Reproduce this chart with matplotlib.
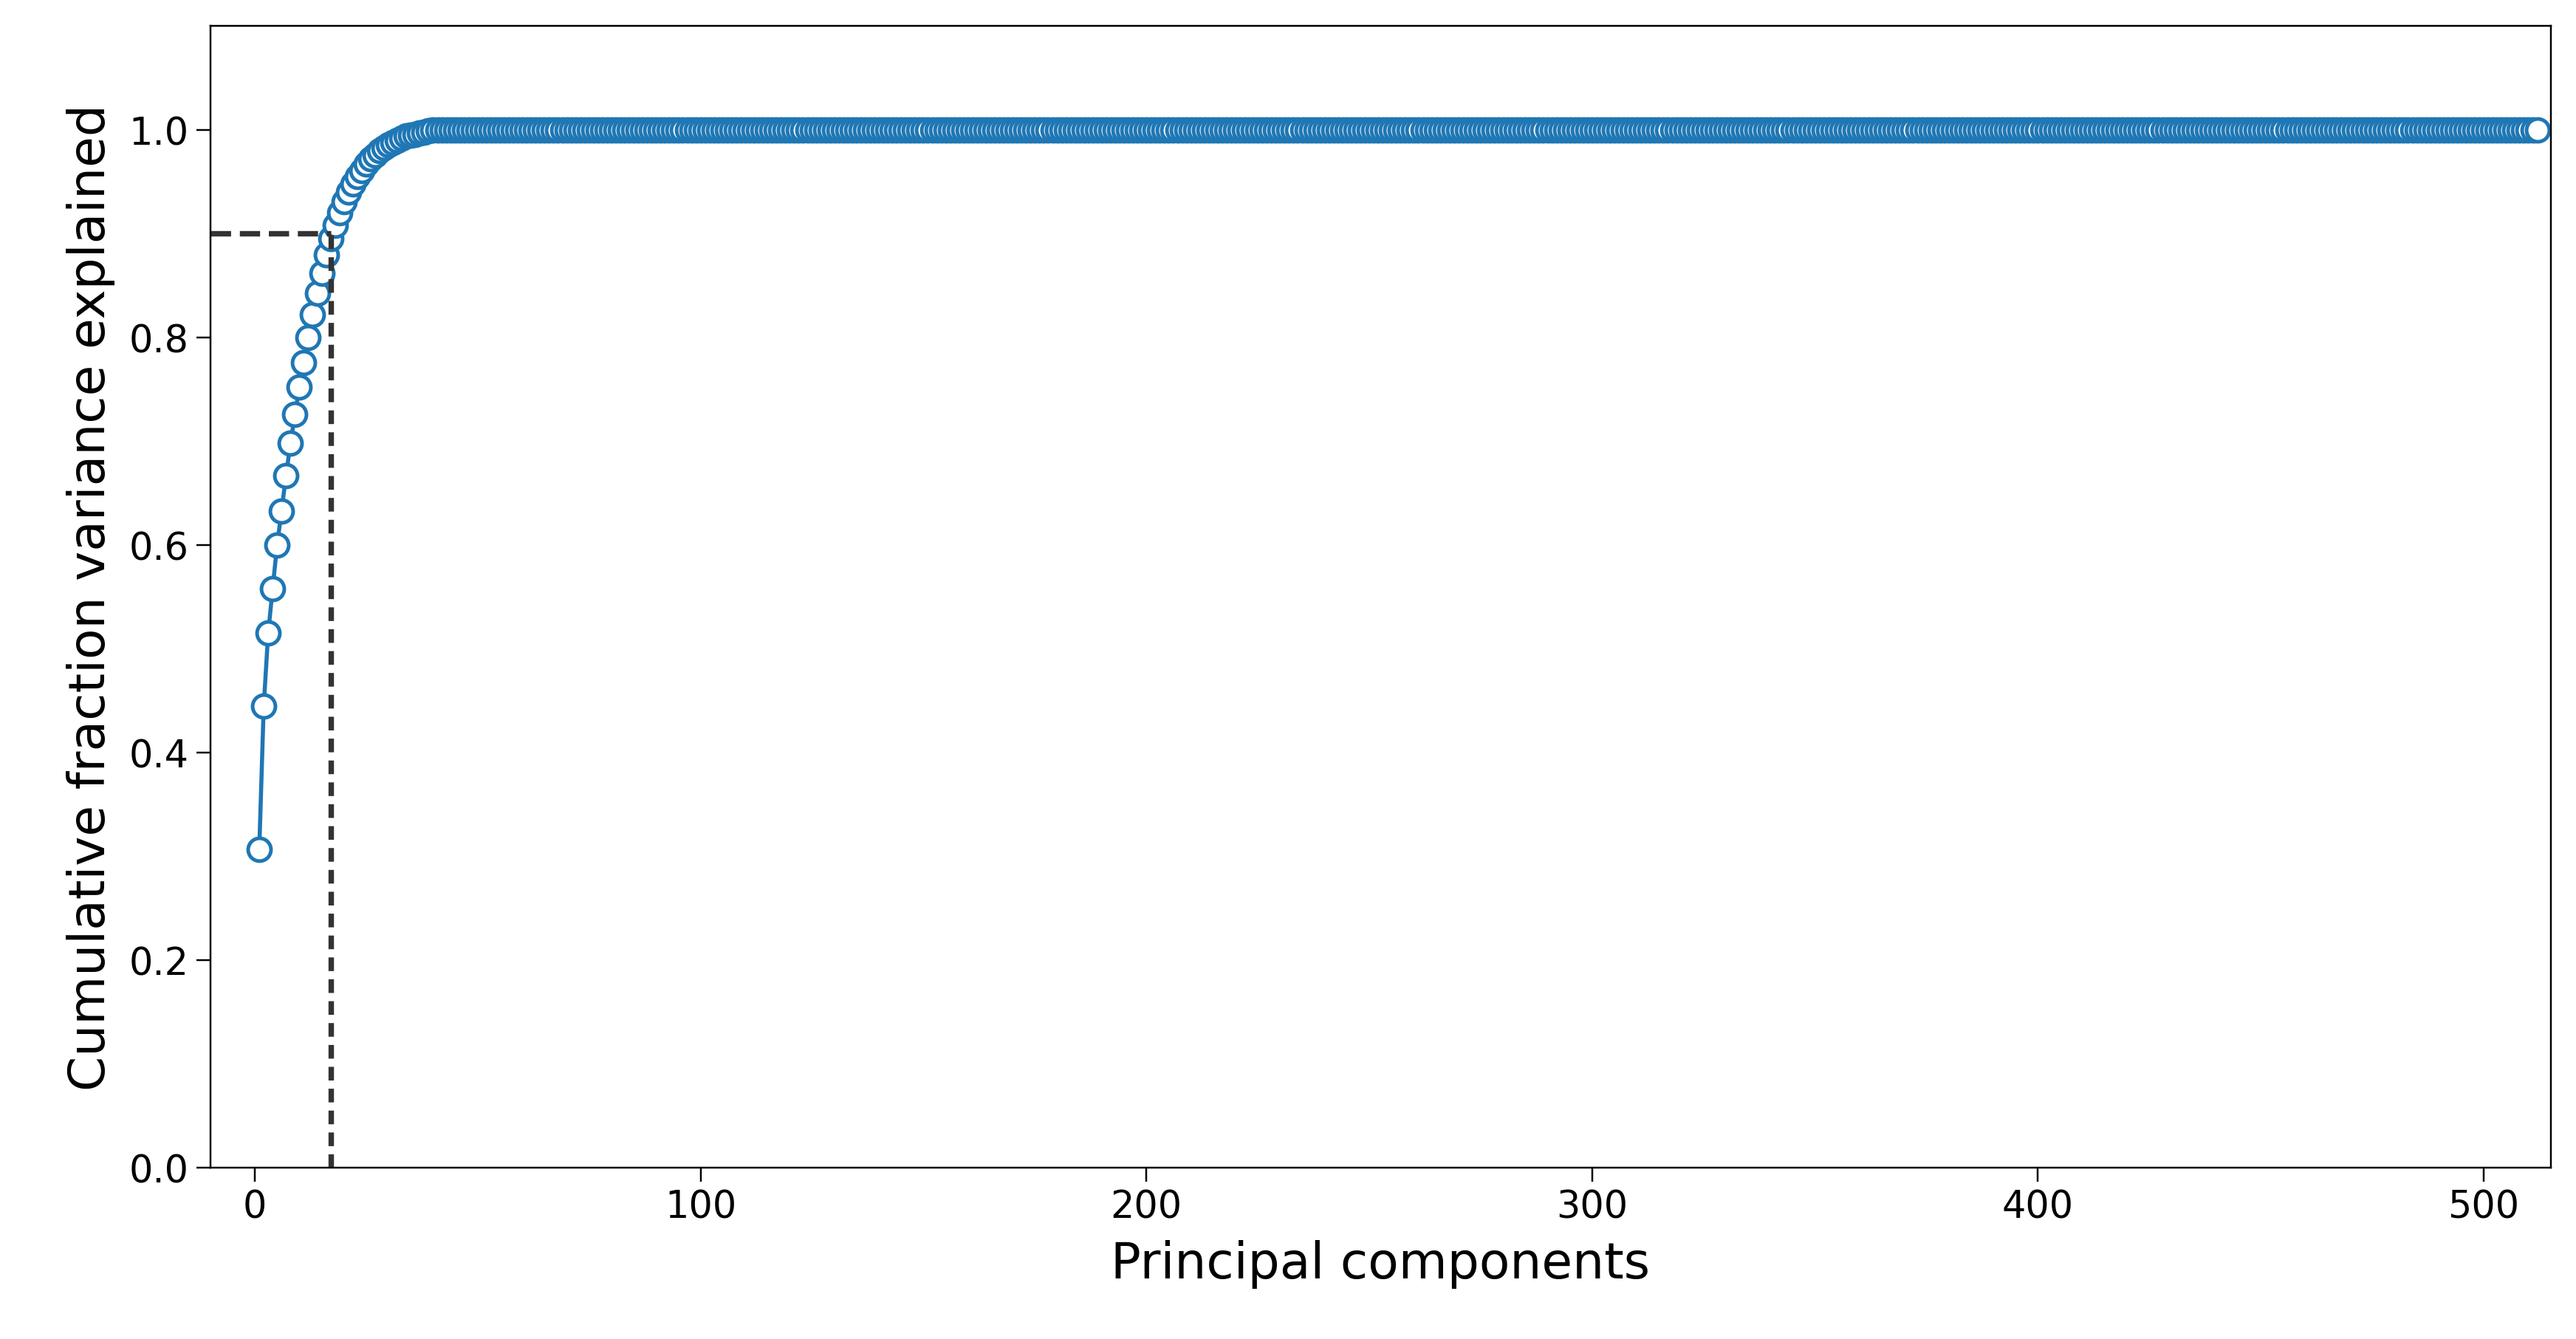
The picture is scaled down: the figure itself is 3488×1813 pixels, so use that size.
import matplotlib
matplotlib.use("Agg")
import matplotlib.pyplot as plt
import numpy as np

# cumulative explained variance (components 1..39), then flat at 1.0
head = [0.307, 0.445, 0.515, 0.558, 0.600, 0.633, 0.667, 0.698, 0.726, 0.752,
        0.776, 0.800, 0.822, 0.843, 0.862, 0.880, 0.895, 0.908, 0.920, 0.931,
        0.940, 0.948, 0.955, 0.961, 0.967, 0.972, 0.976, 0.980, 0.983, 0.986,
        0.988, 0.990, 0.992, 0.994, 0.995, 0.996, 0.997, 0.998, 0.999]
n_components = 512
cum_var = head + [1.0] * (n_components - len(head))
components = np.arange(1, n_components + 1)
threshold = 0.9
n_keep = 17

fig = plt.figure(figsize=(15.7, 8.163), dpi=222.2)
ax = fig.add_axes([0.0816, 0.128, 0.9084, 0.852])
ax.plot(components, cum_var, "-o", color="#1f77b4", mfc="white", mec="#1f77b4",
        markersize=10, markeredgewidth=1.6, linewidth=1.8)
ax.plot([-10, n_keep], [threshold, threshold], "--", color="#333333", linewidth=2.4)
ax.plot([n_keep, n_keep], [0, threshold], color="#333333", linewidth=2.4,
        linestyle=(0, (2.5, 1.5)))
ax.set_xlim(-10, 515)
ax.set_ylim(0, 1.1)
ax.set_xticks([0, 100, 200, 300, 400, 500])
ax.set_yticks([0.0, 0.2, 0.4, 0.6, 0.8, 1.0])
ax.tick_params(labelsize=16.5, length=6)
ax.set_xlabel("Principal components", fontsize=22, labelpad=6)
ax.set_ylabel("Cumulative fraction variance explained", fontsize=22, labelpad=6)
fig.savefig("out.png", dpi=222.2)
